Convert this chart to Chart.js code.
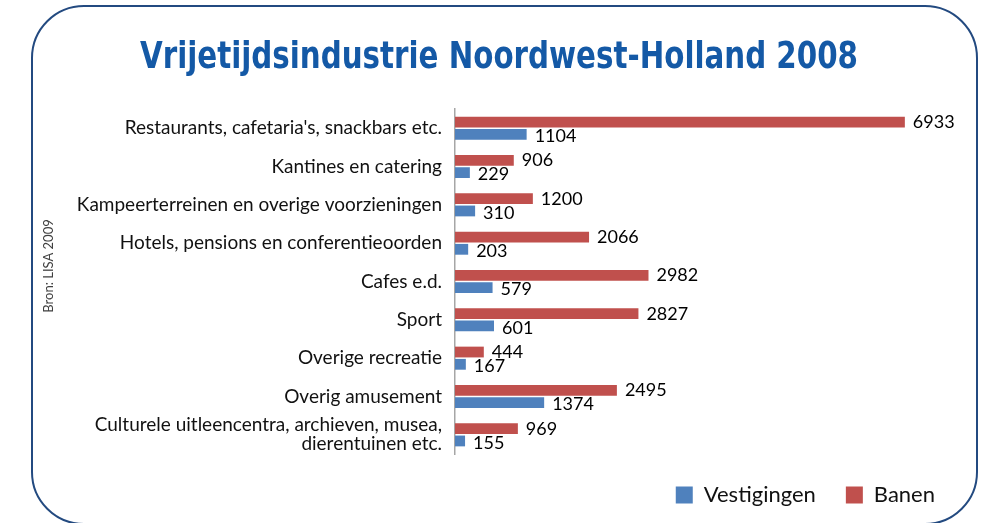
<!DOCTYPE html>
<html>
<head>
<meta charset="utf-8">
<script src="https://cdn.jsdelivr.net/npm/chart.js@4.4.1/dist/chart.umd.min.js"></script>
<style>
  html, body { margin: 0; padding: 0; background: #fff; }
  #wrap { width: 986px; height: 523px; }
</style>
</head>
<body>
<div id="wrap"><canvas id="chart"></canvas></div>
<script>
// data
const categories = [
  "Restaurants, cafetaria's, snackbars etc.",
  "Kantines en catering",
  "Kampeerterreinen en overige voorzieningen",
  "Hotels, pensions en conferentieoorden",
  "Cafes e.d.",
  "Sport",
  "Overige recreatie",
  "Overig amusement",
  ["Culturele uitleencentra, archieven, musea,", "dierentuinen etc."]
];
const banen = [6933, 906, 1200, 2066, 2982, 2827, 444, 2495, 969];
const vestigingen = [1104, 229, 310, 203, 579, 601, 167, 1374, 155];

const titleText = 'Vrijetijdsindustrie Noordwest-Holland 2008';
const sourceText = 'Bron: LISA 2009';

const RED = '#C0504D';
const BLUE = '#4F81BD';

// white background, rounded frame, title and source text
const framePlugin = {
  id: 'frame',
  beforeDraw(chart) {
    const c = chart.ctx;
    c.save();
    c.fillStyle = '#fff';
    c.fillRect(0, 0, chart.width, chart.height);
    const x = 32, y = 6, w = 945, h = 518, r = 52;
    c.beginPath();
    c.moveTo(x + r, y);
    c.arcTo(x + w, y, x + w, y + h, r);
    c.arcTo(x + w, y + h, x, y + h, r);
    c.arcTo(x, y + h, x, y, r);
    c.arcTo(x, y, x + w, y, r);
    c.closePath();
    c.lineWidth = 2;
    c.strokeStyle = '#234A80';
    c.stroke();
    c.restore();

    // title, squeezed a bit to look like the condensed original
    c.save();
    c.font = "bold 38px 'DejaVu Sans Condensed', 'DejaVu Sans', sans-serif";
    c.fillStyle = '#1459A6';
    c.textBaseline = 'alphabetic';
    c.textAlign = 'left';
    const tw = c.measureText(titleText).width;
    const sx = 718 / tw;
    c.translate(140, 68);
    c.scale(sx, 1);
    c.fillText(titleText, 0, 0);
    c.restore();

    c.save();
    c.translate(49, 266);
    c.rotate(-Math.PI / 2);
    c.fillStyle = '#404040';
    c.font = '13px Lato';
    c.textAlign = 'center';
    c.textBaseline = 'middle';
    c.fillText(sourceText, 0, 0);
    c.restore();
  }
};

// value labels at the end of each bar
const valueLabels = {
  id: 'valueLabels',
  afterDatasetsDraw(chart) {
    const c = chart.ctx;
    c.save();
    c.font = '18px Lato';
    c.fillStyle = '#000';
    c.textBaseline = 'middle';
    c.textAlign = 'left';
    chart.data.datasets.forEach((ds, i) => {
      const meta = chart.getDatasetMeta(i);
      meta.data.forEach((bar, j) => {
        c.fillText(ds.data[j], bar.x + 8, bar.y + (i === 1 ? 2 : 0));
      });
    });
    c.restore();
  }
};

const ctx = document.getElementById('chart').getContext('2d');
const chart = new Chart(ctx, {
  type: 'bar',
  data: {
    labels: categories,
    datasets: [{
      label: 'Banen',
      data: banen,
      backgroundColor: RED,
      categoryPercentage: 0.64,
      barPercentage: 0.88
    }, {
      label: 'Vestigingen',
      data: vestigingen,
      backgroundColor: BLUE,
      categoryPercentage: 0.64,
      barPercentage: 0.88
    }]
  },
  options: {
    indexAxis: 'y',
    responsive: true,
    maintainAspectRatio: false,
    animation: false,
    layout: { padding: { top: 109, right: 21, bottom: 7, left: 0 } },
    scales: {
      x: {
        min: 0,
        max: 7860,
        ticks: { display: false },
        grid: { display: false },
        border: { display: false },
        afterFit(scale) { scale.height = 0; }
      },
      y: {
        grid: { display: false, drawTicks: false },
        border: { display: true, color: '#A6A6A6', width: 1.5 },
        ticks: {
          autoSkip: false,
          padding: 13,
          color: '#111',
          font: { family: 'Lato', size: 19, lineHeight: 1.0 }
        },
        afterFit(scale) { scale.width = 455; }
      }
    },
    plugins: {
      title: { display: false },
      legend: {
        position: 'bottom',
        align: 'end',
        reverse: true,
        labels: {
          boxWidth: 17,
          boxHeight: 17,
          padding: 30,
          color: '#111',
          font: { family: 'Lato', size: 22 }
        }
      },
      tooltip: { enabled: false }
    }
  },
  plugins: [framePlugin, valueLabels]
});
</script>
</body>
</html>
